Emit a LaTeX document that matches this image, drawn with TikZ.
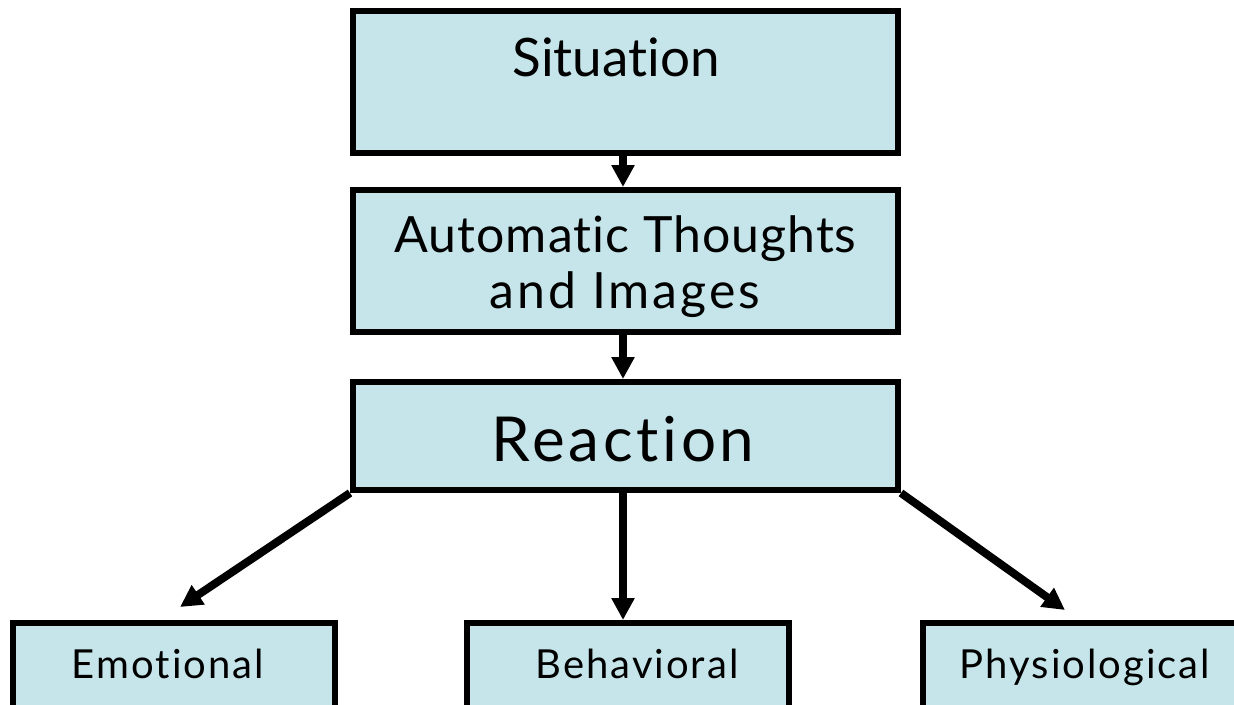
\documentclass[tikz,border=0pt]{standalone}
\usepackage{fontspec}
\setmainfont{Lato}[Ligatures={NoCommon,NoContextual}]
\usetikzlibrary{arrows.meta}
\definecolor{boxfill}{RGB}{197,229,234}
\tikzset{
  box/.style={draw=black, fill=boxfill, line width=6pt, rectangle, inner sep=0pt, minimum width=#1},
  box/.default=545pt,
  lbl/.style={anchor=base, inner sep=0pt, text=black},
  small/.style={lbl, font=\fontsize{40pt}{46pt}\selectfont\addfontfeatures{LetterSpace=5}},
  arr/.style={draw=black, line width=8pt, -{Triangle[width=22pt,length=22pt]}}
}
\begin{document}
\begin{tikzpicture}[x=1pt,y=-1pt]
\useasboundingbox (0,0) rectangle (1234,704);
\clip (0,0) rectangle (1234,704);
% main boxes
\node[box, minimum height=142pt] (sit) at (625.5,82) {};
\node[box, minimum height=142pt] (aut) at (625.5,261) {};
\node[box, minimum height=108pt] (rea) at (625.5,436) {};
% bottom boxes
\node[box=322pt, minimum height=87pt] (emo) at (174,666.5) {};
\node[box=322pt, minimum height=87pt] (beh) at (628,666.5) {};
\node[box=322pt, minimum height=87pt] (phy) at (1084,666.5) {};
% texts
\node[lbl, font=\fontsize{53pt}{60pt}\selectfont] (sittxt) at (616,76) {Situation};
\node[lbl, font=\fontsize{50pt}{56pt}\selectfont\addfontfeatures{LetterSpace=2}] (auttxt1) at (625.5,252) {Automatic Thoughts};
\node[lbl, font=\fontsize{50pt}{56pt}\selectfont\addfontfeatures{LetterSpace=6}] (auttxt2) at (625,308) {and Images};
\node[lbl, font=\fontsize{62pt}{68pt}\selectfont\addfontfeatures{LetterSpace=6}] (reatxt) at (623,461) {Reaction};
\node[small] (emotxt) at (168,678) {Emotional};
\node[small] (behtxt) at (637,678) {Behavioral};
\node[small] (phytxt) at (1085,678) {Physiological};
% arrows
\coordinate (emotip) at (180,607);
\coordinate (phytip) at (1065,610);
\draw[arr] ([xshift=-2.5pt]sit.south) -- ([xshift=-2.5pt]aut.north);
\draw[arr] ([xshift=-2.5pt]aut.south) -- ([xshift=-2.5pt]rea.north);
\draw[arr] (rea.south west) -- (emotip);
\draw[arr] ([xshift=-2.5pt]rea.south) -- ([xshift=-2.5pt]rea.south |- beh.north);
\draw[arr] (rea.south east) -- (phytip);
\end{tikzpicture}
\end{document}
